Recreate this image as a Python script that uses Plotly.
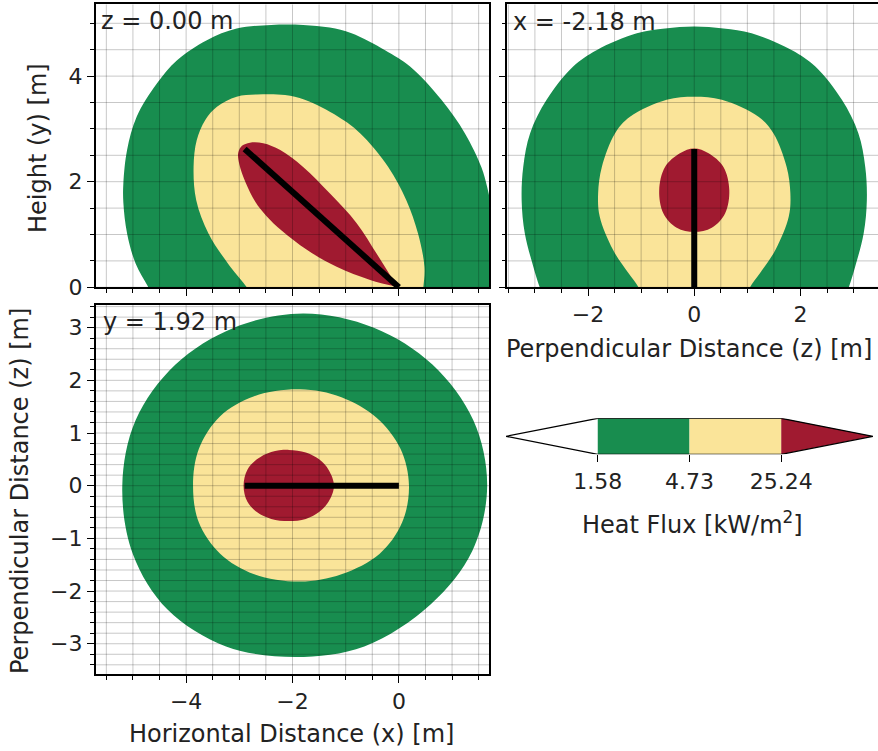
import numpy as np
import plotly.graph_objects as go

# ---------------- data ----------------
levels = [1.58, 4.73, 25.24]                      # heat-flux contour levels [kW/m2]
level_colors = ["#188d4f", "#fae499", "#a01a30"]  # green, yellow, red
low_color = "#ffffff"
slice_labels = ["z = 0.00 m", "x = -2.18 m", "y = 1.92 m"]

# flame centreline
cl_x = [0.0, -1.45, -2.90]
cl_y = [0.0, 1.31, 2.62]
cl_z = [0.0, 0.0, 0.0]

# Panel 1: x-y plane (z = 0)
p1_green_x = [-4.50, -4.71, -4.95, -5.11, -5.18, -5.18, -5.11, -4.93, -4.55, -4.17, -3.61, -3.05,
              -2.40, -1.80, -1.30, -0.89, -0.26, 0.21, 0.80, 1.24, 1.55, 1.66, 1.74, 1.82, 1.86, 1.86]
p1_green_y = [-0.40, 0.00, 0.45, 1.02, 1.60, 1.97, 2.60, 3.23, 3.86, 4.30, 4.68, 4.90,
              4.97, 4.97, 4.92, 4.81, 4.49, 4.18, 3.55, 2.92, 2.28, 1.90, 1.50, 0.90, 0.30, -0.40]
p1_yellow_x = [-2.70, -2.86, -3.17, -3.58, -3.81, -3.86, -3.80, -3.64, -3.42, -3.05, -2.67, -2.14,
               -1.77, -1.14, -0.73, -0.20, 0.14, 0.36, 0.48, 0.46, 0.42]
p1_yellow_y = [-0.30, 0.00, 0.39, 1.02, 1.65, 2.28, 2.79, 3.17, 3.42, 3.61, 3.65, 3.64,
               3.55, 3.23, 2.92, 2.28, 1.65, 1.02, 0.39, 0.00, -0.30]
p1_red_x = [0.00, -0.54, -1.17, -1.73, -2.20, -2.50, -2.70, -2.88, -3.00, -3.02, -2.95, -2.80,
            -2.55, -2.23, -1.80, -1.30, -0.79, -0.42, -0.11]
p1_red_y = [0.00, 0.14, 0.39, 0.71, 1.07, 1.36, 1.62, 1.98, 2.33, 2.55, 2.68, 2.74,
            2.73, 2.60, 2.28, 1.78, 1.21, 0.64, 0.14]

# Panel 2: z-y plane (x = -2.18)
p2_green_z = [-2.75, -2.91, -3.03, -3.19, -3.25, -3.22, -3.09, -2.78, -2.28, -1.84, -1.08, -0.55, 0.00,
              0.55, 1.08, 1.84, 2.28, 2.78, 3.09, 3.22, 3.25, 3.19, 3.03, 2.91, 2.75]
p2_green_y = [-0.40, 0.00, 0.39, 1.02, 1.65, 2.28, 2.92, 3.55, 4.18, 4.49, 4.81, 4.90, 4.94,
              4.90, 4.81, 4.49, 4.18, 3.55, 2.92, 2.28, 1.65, 1.02, 0.39, 0.00, -0.40]
p2_yellow_z = [-0.95, -1.05, -1.24, -1.53, -1.78, -1.81, -1.74, -1.49, -1.21, -0.52, 0.00,
               0.52, 1.21, 1.49, 1.74, 1.81, 1.78, 1.53, 1.24, 1.05, 0.95]
p2_yellow_y = [-0.30, 0.00, 0.27, 0.71, 1.34, 1.78, 2.28, 2.92, 3.23, 3.55, 3.61,
               3.55, 3.23, 2.92, 2.28, 1.78, 1.34, 0.71, 0.27, 0.00, -0.30]
p2_red_z = [0.00, -0.33, -0.58, -0.66, -0.55, -0.27, 0.00, 0.27, 0.55, 0.66, 0.58, 0.33]
p2_red_y = [1.05, 1.13, 1.40, 1.84, 2.28, 2.54, 2.63, 2.54, 2.28, 1.84, 1.40, 1.13]

# Panel 3: x-z plane (y = 1.92)
p3_green_x = [1.66, 1.40, 0.63, -0.47, -1.80, -3.10, -4.20, -4.95,
              -5.20, -5.00, -4.35, -3.25, -1.95, -0.65, 0.60, 1.38]
p3_green_z = [0.00, 1.24, 2.30, 3.00, 3.27, 3.00, 2.30, 1.24,
              0.00, -1.30, -2.35, -3.05, -3.25, -3.05, -2.25, -1.24]
p3_yellow_x = [0.19, 0.03, -0.42, -1.08, -1.86, -2.72, -3.36, -3.76,
               -3.87, -3.76, -3.36, -2.72, -1.86, -1.08, -0.36, 0.06]
p3_yellow_z = [0.00, 0.70, 1.29, 1.68, 1.83, 1.70, 1.32, 0.70,
               0.00, -0.70, -1.29, -1.68, -1.82, -1.68, -1.29, -0.70]
p3_red_x = [-2.92, -2.85, -2.67, -2.40, -2.07, -1.75, -1.50, -1.32, -1.22, -1.32, -1.50, -1.75,
            -2.07, -2.40, -2.67, -2.85]
p3_red_z = [0.00, 0.30, 0.50, 0.64, 0.68, 0.63, 0.50, 0.30, 0.00, -0.30, -0.50, -0.63,
            -0.67, -0.63, -0.50, -0.30]

# ---------------- layout geometry ----------------
W, H = 878, 751
FONT = "DejaVu Sans"
TXT = "#222222"
GRID = "rgba(0,0,0,0.22)"


def px_x(v):
    return v / W


def px_y(v):
    return 1 - v / H


p1_dom_x = [px_x(95.7), px_x(489.3)]
p1_dom_y = [px_y(287.3), px_y(4.3)]
p2_dom_x = [px_x(507.3), 1.0]
p3_dom_y = [px_y(674.3), px_y(305.0)]
cb_dom_x = [px_x(506), px_x(873)]
cb_dom_y = [px_y(454.3), px_y(418.3)]

p1_xr = [-5.70, 1.70]
p1_yr = [0.0, 5.36]
p2_xr = [-3.52, 3.46]
p3_yr = [-3.58, 3.43]

fig = go.Figure()


def fill_trace(xs, ys, color, xa, ya, closed=False):
    xs, ys = list(xs), list(ys)
    if closed:  # repeat first point so the spline is drawn as a smooth closed curve
        xs.append(xs[0])
        ys.append(ys[0])
    fig.add_trace(go.Scatter(x=xs, y=ys, mode="lines", fill="toself", fillcolor=color,
                             line=dict(width=0, shape="spline", smoothing=1.0, color=color),
                             xaxis=xa, yaxis=ya, hoverinfo="skip", showlegend=False))


def grid_trace(xr, yr, dx, dy, xa, ya):
    xs, ys = [], []
    for v in np.arange(np.ceil(xr[0] / dx) * dx, xr[1] + 1e-9, dx):
        xs += [v, v, None]
        ys += [yr[0], yr[1], None]
    for v in np.arange(np.ceil(yr[0] / dy) * dy, yr[1] + 1e-9, dy):
        xs += [xr[0], xr[1], None]
        ys += [v, v, None]
    fig.add_trace(go.Scatter(x=xs, y=ys, mode="lines", line=dict(width=1, color=GRID),
                             xaxis=xa, yaxis=ya, hoverinfo="skip", showlegend=False))


def line_trace(xs, ys, xa, ya):
    fig.add_trace(go.Scatter(x=xs, y=ys, mode="lines", line=dict(width=6, color="black"),
                             xaxis=xa, yaxis=ya, hoverinfo="skip", showlegend=False))


# panel 1
fill_trace(p1_green_x, p1_green_y, level_colors[0], "x", "y")
fill_trace(p1_yellow_x, p1_yellow_y, level_colors[1], "x", "y")
fill_trace(p1_red_x, p1_red_y, level_colors[2], "x", "y")
grid_trace(p1_xr, p1_yr, 0.5, 0.5, "x", "y")
line_trace(cl_x, cl_y, "x", "y")

# panel 2
fill_trace(p2_green_z, p2_green_y, level_colors[0], "x2", "y2")
fill_trace(p2_yellow_z, p2_yellow_y, level_colors[1], "x2", "y2")
fill_trace(p2_red_z, p2_red_y, level_colors[2], "x2", "y2", closed=True)
grid_trace(p2_xr, p1_yr, 0.5, 0.5, "x2", "y2")
line_trace(cl_z, cl_y, "x2", "y2")

# panel 3
fill_trace(p3_green_x, p3_green_z, level_colors[0], "x3", "y3", closed=True)
fill_trace(p3_yellow_x, p3_yellow_z, level_colors[1], "x3", "y3", closed=True)
fill_trace(p3_red_x, p3_red_z, level_colors[2], "x3", "y3", closed=True)
grid_trace(p1_xr, p3_yr, 0.5, 0.2, "x3", "y3")
line_trace(cl_x, cl_z, "x3", "y3")

# colour bar (extend both): low triangle, level bands, high triangle
cb_colors = [low_color] + level_colors
n = len(cb_colors)
for i, c in enumerate(cb_colors):
    if i == 0:
        xs, ys = [0, 1, 1, 0], [0.5, 0, 1, 0.5]
    elif i == n - 1:
        xs, ys = [i, i + 1, i, i], [0, 0.5, 1, 0]
    else:
        xs, ys = [i, i + 1, i + 1, i, i], [0, 0, 1, 1, 0]
    fig.add_trace(go.Scatter(x=xs, y=ys, mode="lines", fill="toself", fillcolor=c,
                             line=dict(width=0, color=c), xaxis="x4", yaxis="y4",
                             hoverinfo="skip", showlegend=False))
fig.add_trace(go.Scatter(x=[0, 1, n - 1, n, n - 1, 1, 0], y=[0.5, 1, 1, 0.5, 0, 0, 0.5],
                         mode="lines", line=dict(width=1.2, color="black"),
                         xaxis="x4", yaxis="y4", hoverinfo="skip", showlegend=False))

tickfont = dict(family=FONT, size=22, color=TXT)
base = dict(showgrid=False, zeroline=False, showline=True, linecolor="black", linewidth=1.5,
            mirror=True, ticks="outside", ticklen=7, tickwidth=1.3, tickcolor="black",
            tickfont=tickfont, layer="above traces", fixedrange=True, automargin=False)


def minor(d):
    return dict(ticks="outside", ticklen=4, tickwidth=1, tickcolor="black", dtick=d, tick0=0,
                showgrid=False)


fig.update_layout(
    width=W, height=H, margin=dict(l=0, r=0, t=0, b=0, autoexpand=False),
    paper_bgcolor="white", plot_bgcolor="white", hovermode=False,
    font=dict(family=FONT, size=22, color=TXT),
    xaxis=dict(base, domain=p1_dom_x, range=p1_xr, anchor="y", dtick=2, tick0=0,
               showticklabels=False, minor=minor(0.5)),
    yaxis=dict(base, domain=p1_dom_y, range=p1_yr, anchor="x", dtick=2, tick0=0,
               minor=minor(0.5)),
    xaxis2=dict(base, domain=p2_dom_x, range=p2_xr, anchor="y2", dtick=2, tick0=0,
                minor=minor(0.5)),
    yaxis2=dict(base, domain=p1_dom_y, range=p1_yr, anchor="x2", dtick=2, tick0=0,
                showticklabels=False, minor=minor(0.5)),
    xaxis3=dict(base, domain=p1_dom_x, range=p1_xr, anchor="y3", dtick=2, tick0=0,
                minor=minor(0.5)),
    yaxis3=dict(base, domain=p3_dom_y, range=p3_yr, anchor="x3", dtick=1, tick0=0,
                minor=minor(0.2)),
    xaxis4=dict(domain=cb_dom_x, range=[0, n], anchor="y4", showgrid=False, zeroline=False,
                showline=False, ticks="outside", ticklen=7, tickwidth=1.3, tickcolor="black",
                tickvals=list(range(1, n)), ticktext=[f"{v:.2f}" for v in levels],
                tickfont=dict(family=FONT, size=22, color=TXT), fixedrange=True,
                automargin=False),
    yaxis4=dict(domain=cb_dom_y, range=[0, 1], anchor="x4", visible=False, fixedrange=True,
                automargin=False),
)

ann = []
title_font = dict(family=FONT, size=24, color=TXT)
ann.append(dict(text="Height (y) [m]", x=px_x(38), y=px_y(148), textangle=-90))
ann.append(dict(text="Perpendicular Distance (z) [m]", x=px_x(20), y=px_y(491), textangle=-90))
ann.append(dict(text="Horizontal Distance (x) [m]", x=px_x(291), y=px_y(734)))
ann.append(dict(text="Perpendicular Distance (z) [m]", x=px_x(689), y=px_y(349)))
ann.append(dict(text="Heat Flux [kW/m<sup>2</sup>]", x=px_x(692), y=px_y(523)))
for a in ann:
    fig.add_annotation(xref="paper", yref="paper", xanchor="center", yanchor="middle",
                       showarrow=False, font=title_font, **a)

for lab, (lx, ly) in zip(slice_labels, [(99, 21), (511, 22), (101, 322)]):
    fig.add_annotation(text=lab, xref="paper", yref="paper", x=px_x(lx), y=px_y(ly),
                       xanchor="left", yanchor="middle", showarrow=False, font=title_font)

fig.write_html("out.html", config={"displayModeBar": False},
               post_script="document.body.style.margin='0';document.body.style.overflow='hidden';")
